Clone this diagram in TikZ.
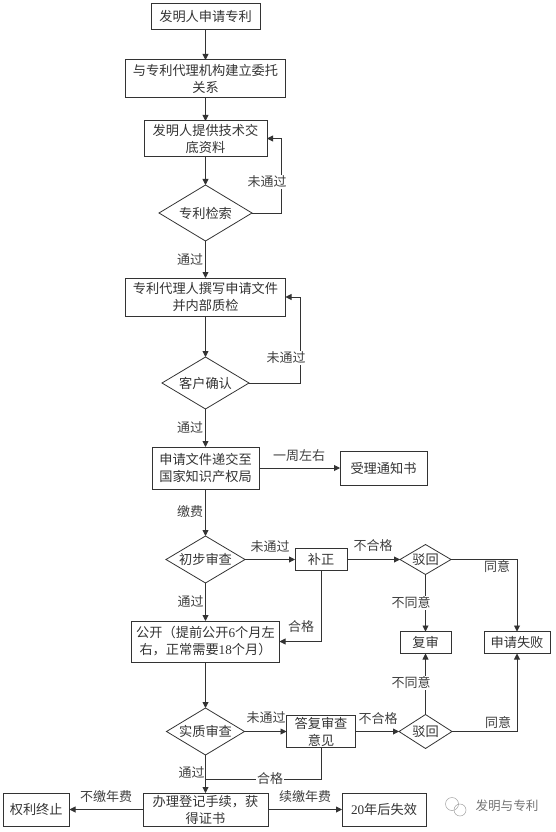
\documentclass[tikz,border=0pt]{standalone}
\usepackage{fontspec}
\usetikzlibrary{arrows.meta,positioning,shapes.geometric}
\newfontfamily\cjk{Noto Sans CJK SC}
\newfontfamily\latinnum{Liberation Serif}
\definecolor{linegray}{gray}{0.2}
\definecolor{marksgray}{gray}{0.62}
\begin{document}
\begin{tikzpicture}[
  box/.style={draw=linegray, rectangle, line width=1pt, inner sep=0pt, outer sep=0pt, align=center,
              font=\cjk\fontsize{13.2}{17}\selectfont, text=black!80},
  dia/.style={draw=linegray, diamond, shape aspect=1.8, line width=0.8pt, inner sep=0pt, outer sep=0pt, align=center,
              font=\cjk\fontsize{13.2}{17}\selectfont, text=black!80},
  lbl/.style={inner sep=1pt, font=\cjk\fontsize{13}{16}\selectfont, text=black!75},
  cutlbl/.style={lbl, fill=white},
  arr/.style={-{Triangle[length=6pt,width=6pt]}, line width=0.9pt, draw=linegray},
  ln/.style={line width=0.9pt, draw=linegray}
]
  \useasboundingbox (0pt,0pt) rectangle (555pt,-832pt);

  %% Main column
  \node[box, minimum width=109pt, minimum height=26pt] (apply) at (205.5pt,-17pt)
    {发明人申请专利};
  \node[box, minimum width=160pt, minimum height=38pt, below=30pt of apply] (agency)
    {与专利代理机构建立委托\\关系};
  \node[box, minimum width=123pt, minimum height=35pt, below=23pt of agency] (disclose)
    {发明人提供技术交\\底资料};
  \node[dia, minimum width=93pt, minimum height=56pt, below=29pt of disclose] (search)
    {专利检索};
  \node[box, minimum width=160pt, minimum height=38pt, below=37pt of search] (draft)
    {专利代理人撰写申请文件\\并内部质检};
  \node[dia, minimum width=87pt, minimum height=52pt, below=41pt of draft] (confirm)
    {客户确认};
  \node[box, minimum width=107pt, minimum height=42pt, below=38pt of confirm] (submit)
    {申请文件递交至\\国家知识产权局};
  \node[dia, minimum width=79pt, minimum height=47pt, below=47pt of submit] (prelim)
    {初步审查};
  \node[box, minimum width=148pt, minimum height=41pt, below=38pt of prelim] (publish)
    {公开（提前公开{\latinnum 6}个月左\\右，正常需要{\latinnum 18}个月）};
  \node[dia, minimum width=78pt, minimum height=47pt, below=46pt of publish] (exam)
    {实质审查};
  \node[box, minimum width=125pt, minimum height=33pt, below=38pt of exam] (register)
    {办理登记手续，获\\得证书};

  %% Side branches
  \node[box, minimum width=87pt, minimum height=34pt, right=81pt of submit] (notice)
    {受理通知书};
  \node[box, minimum width=52pt, minimum height=22pt, right=50pt of prelim] (amend)
    {补正};
  \node[dia, minimum width=51pt, minimum height=30pt, right=53pt of amend] (rejecta)
    {驳回};
  \node[box, minimum width=51pt, minimum height=22pt, below=57pt of rejecta] (review)
    {复审};
  \node[box, minimum width=66pt, minimum height=22pt, right=33pt of review] (fail)
    {申请失败};
  \node[box, minimum width=69pt, minimum height=32pt, right=42pt of exam] (reply)
    {答复审查\\意见};
  \node[dia, minimum width=53pt, minimum height=34pt, right=43.5pt of reply] (rejectb)
    {驳回};
  \node[box, minimum width=66.5pt, minimum height=33pt, left=73.5pt of register] (stop)
    {权利终止};
  \node[box, minimum width=84pt, minimum height=33pt, right=74pt of register] (expire)
    {{\latinnum 20}年后失效};

  %% Loop corners
  \coordinate[right=29.7pt of search.east] (searchback);
  \coordinate[right=51pt of confirm.east] (confirmback);
  \coordinate (okjoin) at (205.5pt,-779pt);

  %% Arrows
  \draw[arr] (apply) -- (agency);
  \draw[arr] (agency) -- (disclose);
  \draw[arr] (disclose) -- (search);
  \draw[arr] (search) -- (draft);
  \draw[arr] (draft) -- (confirm);
  \draw[arr] (confirm) -- (submit);
  \draw[arr] (submit) -- (prelim);
  \draw[arr] (prelim) -- (publish);
  \draw[arr] (publish) -- (exam);
  \draw[arr] (exam) -- (register);
  \draw[arr] (search.east) -- (searchback) |- (disclose.east);
  \draw[arr] (confirm.east) -- (confirmback) |- (draft.east);
  \draw[arr] (submit) -- (notice);
  \draw[arr] (prelim) -- (amend);
  \draw[arr] (amend) -- (rejecta);
  \draw[arr] (rejecta) -- (review);
  \draw[arr] (rejecta.east) -| (fail.north);
  \draw[arr] (amend.south) |- (publish.east);
  \draw[arr] (exam) -- (reply);
  \draw[arr] (reply) -- (rejectb);
  \draw[arr] (rejectb) -- (review);
  \draw[arr] (rejectb.east) -| (fail.south);
  \draw[ln] (reply.south) |- (okjoin);
  \draw[arr] (register) -- (stop);
  \draw[arr] (register) -- (expire);

  %% Labels
  \node[cutlbl] (searchno) at (267pt,-182pt) {未通过};
  \node[lbl] (searchyes) at (190pt,-259.5pt) {通过};
  \node[cutlbl] (confirmno) at (286pt,-358pt) {未通过};
  \node[lbl] (confirmyes) at (190pt,-428pt) {通过};
  \node[lbl] (week) at (299pt,-456pt) {一周左右};
  \node[lbl] (fee) at (190pt,-512pt) {缴费};
  \node[lbl] (prelimno) at (270pt,-547pt) {未通过};
  \node[lbl] (amendno) at (373pt,-546pt) {不合格};
  \node[lbl] (agreea) at (497pt,-567pt) {同意};
  \node[cutlbl] (disagreea) at (411pt,-603pt) {不同意};
  \node[lbl] (prelimyes) at (190.5pt,-602pt) {通过};
  \node[lbl] (amendok) at (301pt,-627pt) {合格};
  \node[cutlbl] (disagreeb) at (411pt,-683pt) {不同意};
  \node[lbl] (examno) at (266pt,-718pt) {未通过};
  \node[lbl] (replyno) at (378pt,-719pt) {不合格};
  \node[cutlbl] (agreeb) at (498pt,-723pt) {同意};
  \node[lbl] (examyes) at (191.5pt,-773pt) {通过};
  \node[cutlbl] (replyok) at (270pt,-779pt) {合格};
  \node[lbl] (nofee) at (106pt,-797pt) {不缴年费};
  \node[lbl] (renew) at (305pt,-797pt) {续缴年费};

  %% Watermark
  \node[draw=marksgray, circle, line width=0.5pt, minimum size=13pt, inner sep=0pt] (logoa) at (452pt,-804pt) {};
  \node[draw=marksgray, circle, line width=0.5pt, minimum size=12pt, inner sep=0pt] (logob) at (460pt,-810pt) {};
  \node[inner sep=0pt, font=\cjk\fontsize{12.6}{14}\selectfont, text=black!55] (mark) at (507pt,-806pt) {发明与专利};
\end{tikzpicture}
\end{document}
